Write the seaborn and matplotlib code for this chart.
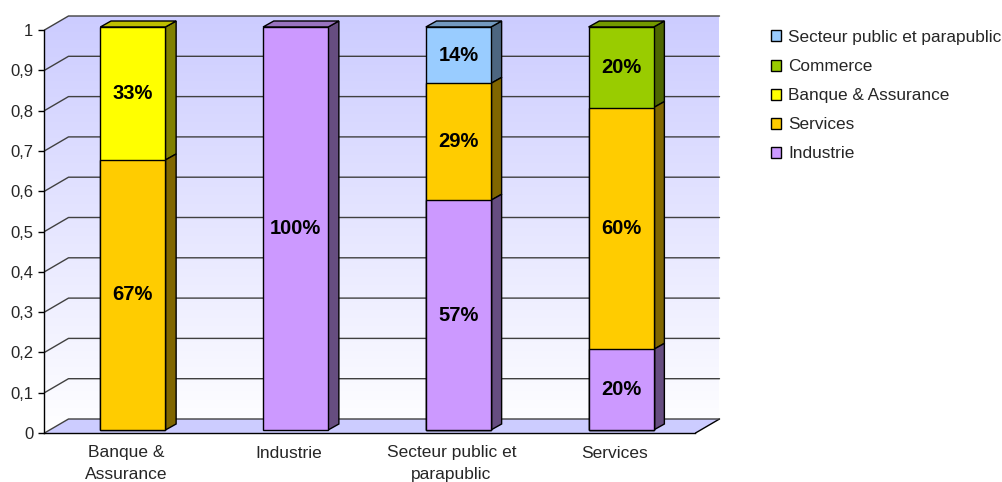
import numpy as np
import pandas as pd
import matplotlib
matplotlib.use("Agg")
import matplotlib.pyplot as plt
import seaborn as sns
from matplotlib.patches import Polygon, Patch, Rectangle
from matplotlib.colors import LinearSegmentedColormap, to_rgb
from matplotlib.transforms import ScaledTranslation

# ---- data -------------------------------------------------------------
categories = ["Banque &\nAssurance", "Industrie", "Secteur public et\nparapublic", "Services"]
# stacking order, bottom to top
segments = ["Industrie", "Services", "Banque & Assurance", "Commerce", "Secteur public et parapublic"]
industrie = [0.00, 1.00, 0.57, 0.20]
services = [0.67, 0.00, 0.29, 0.60]
banque_assurance = [0.33, 0.00, 0.00, 0.00]
commerce = [0.00, 0.00, 0.00, 0.20]
secteur_public = [0.00, 0.00, 0.14, 0.00]
y_ticks = [0, 0.1, 0.2, 0.3, 0.4, 0.5, 0.6, 0.7, 0.8, 0.9, 1]
y_tick_labels = ["0", "0,1", "0,2", "0,3", "0,4", "0,5", "0,6", "0,7", "0,8", "0,9", "1"]

palette = {
    "Industrie": "#CC99FF",
    "Services": "#FFCC00",
    "Banque & Assurance": "#FFFF00",
    "Commerce": "#99CC00",
    "Secteur public et parapublic": "#99CCFF",
}

series = dict(zip(segments, [industrie, services, banque_assurance, commerce, secteur_public]))

rows = []
for ci, cat in enumerate(categories):
    cum = 0.0
    for seg in segments:
        v = series[seg][ci]
        if v > 0:
            rows.append(dict(category=cat, ci=ci, segment=seg, value=v, bottom=cum, top=cum + v))
            cum += v
df = pd.DataFrame(rows)

# ---- figure -----------------------------------------------------------
sns.set_style("white")
plt.rcParams["font.family"] = ["Liberation Sans", "DejaVu Sans"]

DPI = 100
fig = plt.figure(figsize=(10.03, 4.82), dpi=DPI)
W, H = 1003, 482
ax_left, ax_right, ax_top, ax_bottom = 44.5, 695.5, 30, 433
ax = fig.add_axes([ax_left / W, 1 - ax_bottom / H, (ax_right - ax_left) / W, (ax_bottom - ax_top) / H])
ax.patch.set_visible(False)

# pixel -> data conversion factors for the 3D depth effect
sx = (ax_right - ax_left) / 4.0
sy = (ax_bottom - ax_top) / 1.0
Dx, Dy = 24 / sx, 14 / sy          # depth of walls
bdx, bdy = 10.7 / sx, 6 / sy       # depth of bars

x0, x1 = -0.5, 3.5

# back wall + side wall with vertical gradient
wall_verts = [(x0, 0), (x0, 1), (x0 + Dx, 1 + Dy), (x1 + Dx, 1 + Dy), (x1 + Dx, Dy), (x0 + Dx, Dy)]
wall_poly = Polygon(wall_verts, closed=True, facecolor="none", edgecolor="none",
                    transform=ax.transData)
ax.add_patch(wall_poly)
wall_poly.set_clip_on(False)
cmap = LinearSegmentedColormap.from_list("wall", ["#FFFFFF", "#CCCCFF"])
grad = np.linspace(0, 1, 256)[:, None]
im = ax.imshow(grad, extent=[x0, x1 + Dx, 0, 1 + Dy], origin="lower", aspect="auto",
               cmap=cmap, interpolation="bilinear", zorder=0)
im.set_clip_box(fig.bbox)
im.set_clip_path(wall_poly)

# floor
floor = Polygon([(x0, 0), (x1, 0), (x1 + Dx, Dy), (x0 + Dx, Dy)], closed=True,
                facecolor="#CCCCFF", edgecolor="none", zorder=0.5, clip_on=False)
ax.add_patch(floor)
ax.plot([x1, x1 + Dx], [0, Dy], color="black", lw=1, clip_on=False, zorder=1)

# gridlines on side wall and back wall
for yv in y_ticks:
    ax.plot([x0, x0 + Dx, x1 + Dx], [yv, yv + Dy, yv + Dy], color="#404040", lw=1,
            clip_on=False, zorder=1)

# ---- bars (front faces) --------------------------------------------------
sns.barplot(data=df, x="category", y="top", hue="segment", order=categories,
            hue_order=segments[::-1], palette=palette, dodge=False, width=0.4,
            saturation=1, errorbar=None, edgecolor="black", linewidth=1,
            legend=False, ax=ax, zorder=3)

bar_shift = ScaledTranslation(7 / DPI, 3 / DPI, fig.dpi_scale_trans)
trans_bar = ax.transData + bar_shift


def shade(color, f):
    r, g, b = to_rgb(color)
    return (r * f, g * f, b * f)


bars = [p for p in ax.patches if isinstance(p, Rectangle)]
for p in bars:
    h = p.get_height()
    if not np.isfinite(h) or h <= 0:
        continue
    p.set_transform(trans_bar)
    p.set_clip_on(False)
    xl = p.get_x()
    xr = xl + p.get_width()
    ci = int(round(xl + p.get_width() / 2))
    row = df[(df.ci == ci) & (np.isclose(df.top, h))].iloc[0]
    col = palette[row.segment]
    b, t = row.bottom, row.top
    side = Polygon([(xr, b), (xr + bdx, b + bdy), (xr + bdx, t + bdy), (xr, t)], closed=True,
                   facecolor=shade(col, 0.5), edgecolor="black", lw=1,
                   transform=trans_bar, zorder=2.9, clip_on=False)
    ax.add_patch(side)
    is_top = np.isclose(t, df[df.ci == ci].top.max())
    if is_top:
        topf = Polygon([(xl, t), (xl + bdx, t + bdy), (xr + bdx, t + bdy), (xr, t)], closed=True,
                       facecolor=shade(col, 0.75), edgecolor="black", lw=1,
                       transform=trans_bar, zorder=2.9, clip_on=False)
        ax.add_patch(topf)
    ax.text(ci, (b + t) / 2, f"{round(row.value * 100)}%", transform=trans_bar,
            ha="center", va="center", fontsize=14.5, fontweight="bold", color="black", zorder=5)

# ---- axes ----------------------------------------------------------------
ax.set_xlim(x0, x1)
ax.set_ylim(0, 1)
ax.set_yticks(y_ticks, y_tick_labels)
ax.set_xticks(range(len(categories)), categories)
ax.set_xlabel("")
ax.set_ylabel("")
for s in ["top", "right"]:
    ax.spines[s].set_visible(False)
for s in ["left", "bottom"]:
    ax.spines[s].set_color("black")
    ax.spines[s].set_linewidth(1)
    ax.spines[s].set_zorder(4)
ax.tick_params(axis="y", length=4, width=1, color="black", pad=4, labelsize=12, left=True)
ax.tick_params(axis="x", length=0, pad=9, labelsize=12.5)
for lab in ax.get_xticklabels():
    lab.set_linespacing(1.55)

# ---- legend --------------------------------------------------------------
handles = [Patch(facecolor=palette[s], edgecolor="black", lw=1) for s in segments[::-1]]
fig.legend(handles, segments[::-1], loc="upper left", bbox_to_anchor=(771 / W, 1 - 30 / H),
           frameon=False, fontsize=12.4, handlelength=0.6, handleheight=0.6,
           handletextpad=0.4, labelspacing=0.82, borderpad=0, borderaxespad=0)

fig.savefig("out.png", dpi=DPI)
